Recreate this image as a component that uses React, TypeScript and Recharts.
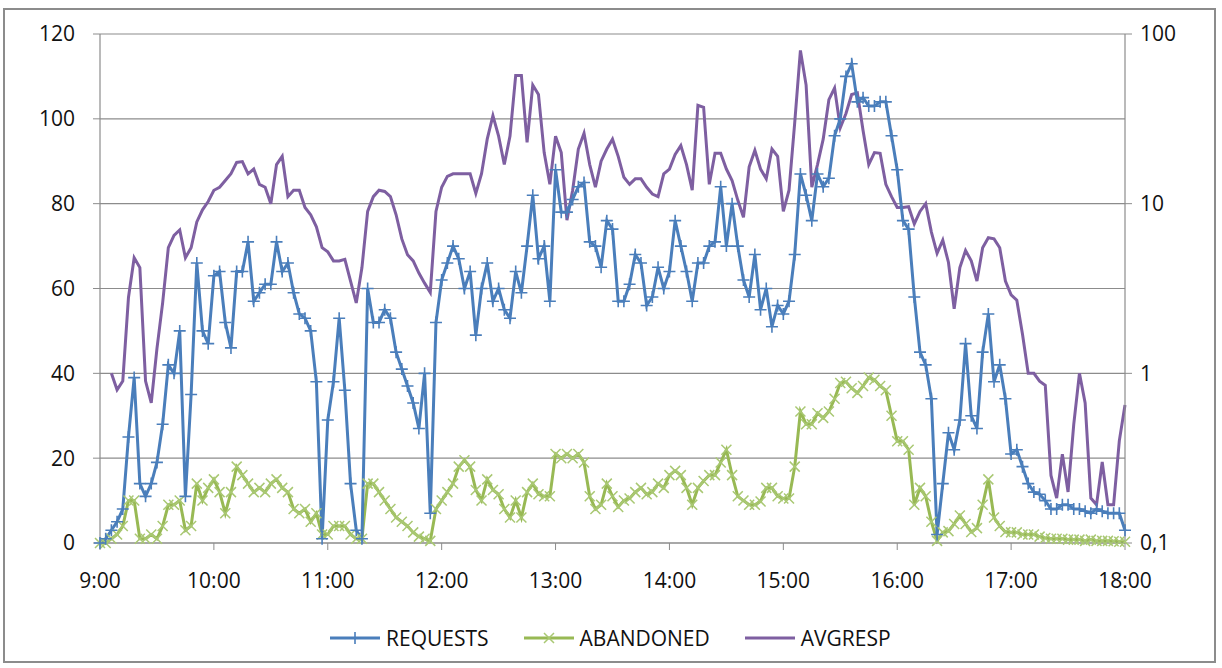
import * as React from "react";
import { CartesianGrid, Line, LineChart, XAxis, YAxis } from "recharts";

// Call-center day, 9:00 – 18:00, one sample every 3 minutes.
// REQUESTS / ABANDONED on the left axis, AVGRESP on a log right axis.

const START_MIN = 0;
const STEP_MIN = 3;

const HOUR_TICKS = [0, 60, 120, 180, 240, 300, 360, 420, 480, 540];
const HOUR_LABELS = ["9:00", "10:00", "11:00", "12:00", "13:00", "14:00", "15:00", "16:00", "17:00", "18:00"];

const LEFT_TICKS = [0, 20, 40, 60, 80, 100, 120];
const RIGHT_TICKS = [0.1, 1, 10, 100];
const RIGHT_LABELS = ["0,1", "1", "10", "100"];

const REQUESTS = [
  0, 1, 3, 5, 8, 25, 39, 14, 11, 14, 19, 28, 42, 40, 50, 11, 35, 66, 50, 47,
  63, 64, 52, 46, 64, 64, 71, 57, 59, 61, 61, 71, 64, 66, 59, 54, 53, 50, 38, 1,
  29, 38, 53, 36, 14, 3, 1, 60, 52, 52, 55, 53, 45, 41, 37, 33, 27, 40, 7, 52,
  62, 66, 70, 67, 60, 64, 49, 60, 66, 57, 60, 55, 53, 64, 59, 70, 82, 67, 70, 57,
  88, 78, 78, 81, 84, 85, 71, 70, 65, 76, 74, 57, 57, 61, 68, 66, 56, 58, 65, 60,
  64, 76, 70, 64, 57, 66, 66, 70, 71, 84, 70, 80, 70, 62, 58, 68, 55, 60, 51, 56,
  54, 57, 68, 87, 82, 76, 87, 84, 86, 96, 100, 110, 113, 104, 105, 103, 103, 104, 104, 96,
  88, 76, 74, 58, 45, 42, 34, 2, 14, 26, 22, 29, 47, 30, 27, 45, 54, 38, 42, 34,
  21, 22, 18, 14, 12, 11.5, 10, 8, 8, 9, 9, 8, 8, 7.5, 7, 8, 7.5, 7, 7, 7,
  3,
];

const ABANDONED = [
  0, 0, 1, 2, 4, 10, 10, 1, 1, 2, 1, 4, 9, 9, 10, 3, 4, 14, 10, 13,
  15, 12, 7, 12, 18, 16, 14, 12, 13, 12, 14, 15, 13, 12, 8, 7, 8, 5, 7, 2,
  2, 4, 4, 4, 2, 1, 1, 14, 14, 12, 10, 8, 6, 5, 4, 2.5, 1.5, 1, 0.5, 8,
  10, 12, 14, 18, 19.5, 18, 12.5, 10, 15, 12.5, 11.5, 8, 6, 10, 6, 12, 14, 11.5, 11, 11,
  21, 20, 21, 20, 21, 19, 11, 8, 9, 14, 11, 8.5, 10, 10.5, 12, 13, 11.5, 12, 14, 13,
  16, 17, 16, 13, 9, 13, 14.6, 16, 16, 19, 22, 16, 11, 10, 9, 9, 9.8, 13, 13, 11,
  10.5, 10.5, 18, 31, 28, 28, 30.6, 29.5, 31, 34, 37.7, 38, 36.5, 35.4, 37, 39, 38.5, 37, 36, 30,
  24, 24, 22, 9, 13, 11, 5, 0.5, 2.5, 2.8, 4.5, 6.5, 4.5, 2.6, 3.5, 9, 15, 6, 4, 2.6,
  2.5, 2.5, 2, 2, 2, 1.5, 1.2, 1, 1, 1, 0.8, 0.8, 0.8, 0.5, 0.8, 0.5, 0.5, 0.5, 0.4, 0.3,
  0.3,
];

const AVGRESP = [
  null, null, 1.0, 0.8, 0.9, 2.8, 4.8, 4.2, 0.9, 0.67, 1.4, 2.6, 5.5, 6.5, 7.0, 4.8, 5.5, 7.8, 9.2, 10.3,
  12, 12.5, 13.7, 15, 17.5, 17.7, 15, 16, 13, 12.5, 10, 17, 19, 11, 12, 12, 9.5, 8.6, 7.3, 5.5,
  5.2, 4.6, 4.6, 4.7, 3.5, 2.6, 4.2, 9, 11, 12, 11.8, 11, 8.6, 6.2, 5, 4.6, 3.9, 3.4, 3.0, 9,
  12.5, 14.5, 15, 15, 15, 15, 11.5, 15, 24, 33, 25, 17, 25, 57, 57, 23, 50, 44, 20, 13,
  25, 20, 8, 12, 21, 26, 17, 12.5, 17.8, 21, 24, 19, 14.3, 13, 14, 14, 12.5, 11.4, 11, 15,
  16, 19.5, 22, 17, 12, 38, 37, 13, 19.8, 19.8, 16, 13.7, 10.5, 8.3, 16.5, 20.6, 16, 14, 21, 19,
  9, 12, 30, 80, 50, 12.5, 17, 24, 41, 48, 28, 34, 44, 45, 27, 17, 20, 19.8, 13, 11,
  9.5, 9.5, 9.6, 7.6, 9, 10, 6.8, 5.1, 6.1, 4.5, 2.4, 4.2, 5.3, 4.6, 3.5, 5.5, 6.3, 6.2, 5.5, 3.5,
  2.9, 2.7, 1.7, 1.0, 1.0, 0.9, 0.85, 0.25, 0.184, 0.334, 0.2, 0.5, 1.0, 0.67, 0.184, 0.168, 0.3, 0.168, 0.168, 0.4,
  0.65,
];

const COLORS = {
  requests: "#4A7EBB",
  abandoned: "#98B954",
  abandonedMarker: "#a9c873",
  avgresp: "#7E5FA1",
  axis: "#8c8c8c",
  text: "#111111",
};

const FONT = "'Open Sans', sans-serif";
const TICK_STYLE = { fill: COLORS.text, fontSize: 21, fontFamily: FONT };

const rows = REQUESTS.map((r, i) => ({
  t: START_MIN + i * STEP_MIN,
  requests: r,
  abandoned: ABANDONED[i],
  avgresp: AVGRESP[i],
}));

function PlusDot(props: any) {
  const { cx, cy, index } = props;
  if (cx == null || cy == null || props.value == null) return <g key={`p${index}`} />;
  return (
    <path
      key={`p${index}`}
      d={`M${cx - 6},${cy}H${cx + 6}M${cx},${cy - 6}V${cy + 6}`}
      stroke={COLORS.requests}
      strokeWidth={1.6}
      fill="none"
    />
  );
}

function CrossDot(props: any) {
  const { cx, cy, index } = props;
  if (cx == null || cy == null || props.value == null) return <g key={`x${index}`} />;
  return (
    <path
      key={`x${index}`}
      d={`M${cx - 5},${cy - 5}L${cx + 5},${cy + 5}M${cx - 5},${cy + 5}L${cx + 5},${cy - 5}`}
      stroke={COLORS.abandonedMarker}
      strokeWidth={1.5}
      fill="none"
    />
  );
}

function LegendItem({ color, label, marker }: { color: string; label: string; marker: "plus" | "cross" | "none" }) {
  return (
    <div style={{ display: "flex", alignItems: "center", gap: 5 }}>
      <svg width={52} height={16}>
        <line x1={1} y1={8} x2={51} y2={8} stroke={color} strokeWidth={3} />
        {marker === "plus" && <path d="M20,8H32M26,2V14" stroke={color} strokeWidth={1.6} />}
        {marker === "cross" && <path d="M21,3L31,13M21,13L31,3" stroke={COLORS.abandonedMarker} strokeWidth={1.5} />}
      </svg>
      <span style={{ fontFamily: FONT, fontSize: 21, color: COLORS.text }}>{label}</span>
    </div>
  );
}

export default function App() {
  return (
    <div style={{ position: "absolute", left: 0, top: 0, width: 1222, height: 668, background: "#fff" }}>
      <div
        style={{
          position: "absolute",
          left: 3,
          top: 8,
          width: 1213,
          height: 655,
          border: "2px solid #8c8c8c",
          boxSizing: "border-box",
        }}
      />
      <div style={{ position: "absolute", left: 0, top: 0 }}>
        <LineChart width={1222} height={668} data={rows} margin={{ top: 34, right: 27, left: 30, bottom: 85 }}>
          <CartesianGrid yAxisId="left" vertical={false} stroke={COLORS.axis} strokeWidth={1.2} />
          <XAxis
            dataKey="t"
            type="number"
            domain={[0, 540]}
            ticks={HOUR_TICKS}
            tickFormatter={(v: number) => HOUR_LABELS[HOUR_TICKS.indexOf(v)]}
            axisLine={{ stroke: COLORS.axis, strokeWidth: 1.2 }}
            tickLine={{ stroke: COLORS.axis }}
            tickSize={7}
            tickMargin={23}
            tick={TICK_STYLE}
            height={40}
            interval={0}
          />
          <YAxis
            yAxisId="left"
            domain={[0, 120]}
            ticks={LEFT_TICKS}
            axisLine={{ stroke: COLORS.axis, strokeWidth: 1.2 }}
            tickLine={{ stroke: COLORS.axis }}
            tickSize={7}
            tickMargin={18}
            tick={TICK_STYLE}
            width={70}
            interval={0}
          />
          <YAxis
            yAxisId="right"
            orientation="right"
            scale="log"
            domain={[0.1, 100]}
            allowDataOverflow
            ticks={RIGHT_TICKS}
            tickFormatter={(v: number) => RIGHT_LABELS[RIGHT_TICKS.indexOf(v)]}
            axisLine={{ stroke: COLORS.axis, strokeWidth: 1.2 }}
            tickLine={{ stroke: COLORS.axis }}
            tickSize={7}
            tickMargin={8}
            tick={TICK_STYLE}
            width={70}
            interval={0}
          />
          <Line
            yAxisId="right"
            type="linear"
            dataKey="avgresp"
            stroke={COLORS.avgresp}
            strokeWidth={3}
            dot={false}
            activeDot={false}
            isAnimationActive={false}
          />
          <Line
            yAxisId="left"
            type="linear"
            dataKey="abandoned"
            stroke={COLORS.abandoned}
            strokeWidth={3}
            dot={CrossDot}
            activeDot={false}
            isAnimationActive={false}
          />
          <Line
            yAxisId="left"
            type="linear"
            dataKey="requests"
            stroke={COLORS.requests}
            strokeWidth={3}
            dot={PlusDot}
            activeDot={false}
            isAnimationActive={false}
          />
        </LineChart>
      </div>
      <div
        style={{
          position: "absolute",
          left: 329,
          top: 624,
          display: "flex",
          alignItems: "center",
          gap: 34,
        }}
      >
        <LegendItem color={COLORS.requests} label="REQUESTS" marker="plus" />
        <LegendItem color={COLORS.abandoned} label="ABANDONED" marker="cross" />
        <LegendItem color={COLORS.avgresp} label="AVGRESP" marker="none" />
      </div>
    </div>
  );
}
